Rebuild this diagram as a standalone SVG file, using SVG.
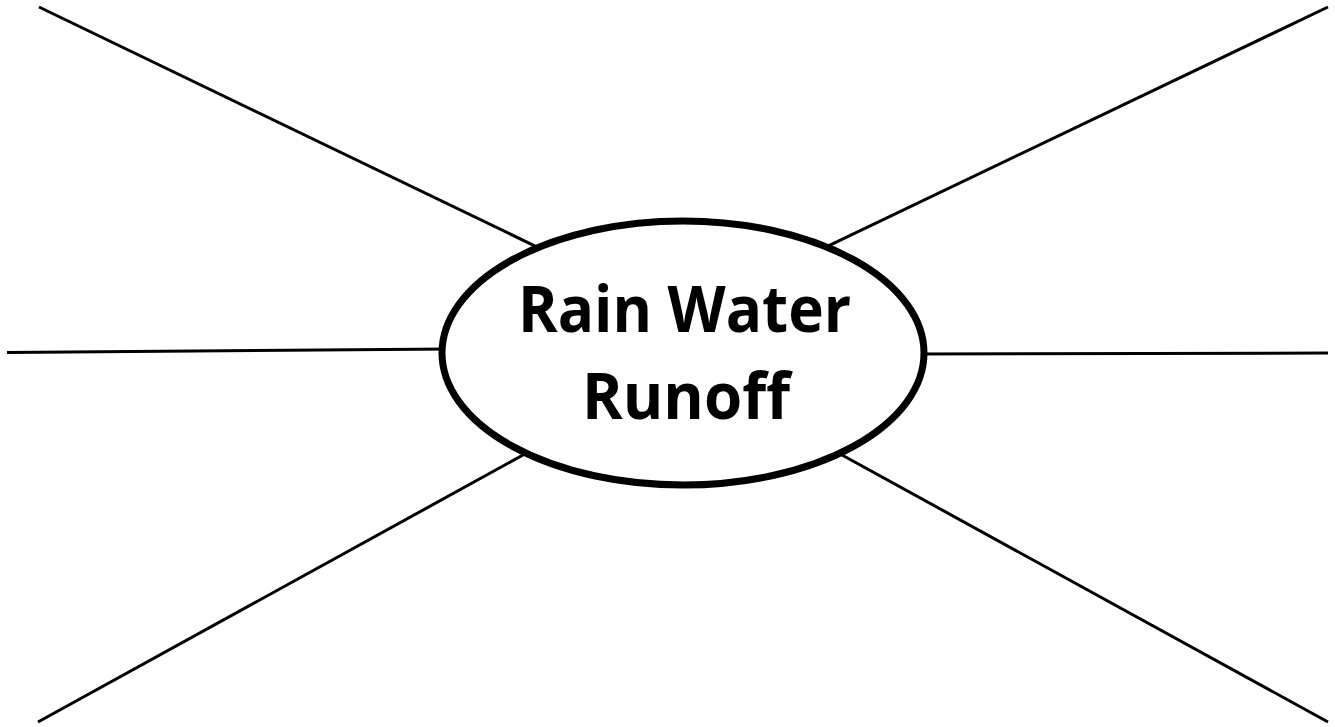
<svg xmlns="http://www.w3.org/2000/svg" width="1335" height="727" viewBox="0 0 1335 727">
<style>
.c{stroke:#000;stroke-width:3;fill:none;stroke-linecap:butt}
.n{fill:#fff;stroke:#000;stroke-width:7}
.t{font-family:"Open Sans","Liberation Sans",sans-serif;font-weight:bold;font-size:65px;fill:#000;text-anchor:middle}
</style>
<rect width="1335" height="727" fill="#fff"/>
<g id="connectors">
<line class="c" x1="39" y1="7" x2="545" y2="250.8"/>
<line class="c" x1="1328" y1="7" x2="820" y2="249.8"/>
<line class="c" x1="7" y1="352.5" x2="450" y2="349"/>
<line class="c" x1="1328" y1="353" x2="918" y2="354"/>
<line class="c" x1="38" y1="722" x2="533" y2="449.5"/>
<line class="c" x1="1328" y1="722" x2="832" y2="449.5"/>
</g>
<g id="center">
<ellipse class="n" cx="683" cy="353" rx="241" ry="132"/>
<text class="t" x="684.5" y="332" textLength="333" lengthAdjust="spacingAndGlyphs">Rain Water</text>
<text class="t" x="686" y="419" textLength="208" lengthAdjust="spacingAndGlyphs">Runoff</text>
</g>
</svg>
